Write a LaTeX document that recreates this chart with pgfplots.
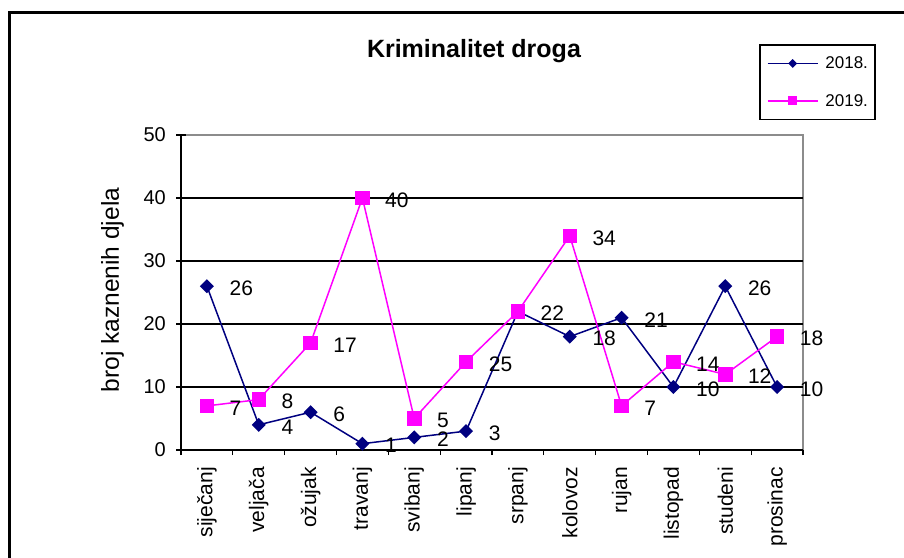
\documentclass[border=0pt]{standalone}
\usepackage{pgfplots}
\pgfplotsset{compat=1.18}
\usepackage{fontspec}
\setmainfont{Liberation Sans}
\definecolor{navyc}{HTML}{000080}
\definecolor{magc}{HTML}{FF00FF}
\newcommand{\fs}[1]{\fontsize{#1}{#1}\selectfont}
\begin{document}
\begin{tikzpicture}
\begin{axis}[
  at={(181pt,107pt)}, anchor=south west,
  scale only axis, width=622pt, height=315pt,
  xmin=-0.5, xmax=11.5, ymin=0, ymax=50,
  clip=false,
  axis x line*=bottom, axis y line*=left,
  axis line style={-, black, line width=1.3pt},
  axis background/.style={draw=black!45, line width=1.2pt},
  xtick={-0.5,0.5,...,11.5},
  x tick label as interval,
  xticklabels={siječanj,veljača,ožujak,travanj,svibanj,lipanj,srpanj,kolovoz,rujan,listopad,studeni,prosinac},
  xticklabel style={rotate=90, anchor=east, inner sep=0pt, font=\fs{21}},
  xticklabel shift=12pt,
  ytick={0,10,...,40},
  extra y ticks={50},
  extra y tick style={grid=none},
  yticklabel style={inner sep=0pt, font=\fs{20}},
  yticklabel shift=10pt,
  /pgf/number format/assume math mode=true,
  ymajorgrids,
  major grid style={black, line width=1.4pt},
  tick align=center,
  major tick length=10pt,
  tick style={black, line width=1.2pt},
  xtick style={yshift=-2.5pt, /pgfplots/major tick length=5pt},
  ylabel={broj kaznenih djela},
  ylabel style={font=\fs{24.5}, at={(axis description cs:-0.110,0.508)}, anchor=center},
  title={Kriminalitet droga},
  title style={font=\bfseries\fs{25}, at={(axis description cs:0.471,1.246)}, anchor=center},
  point meta=explicit symbolic,
  nodes near coords,
  nodes near coords style={anchor=west, xshift=22pt, yshift=-2pt, inner sep=0pt, font=\fs{21}, text=black},
  legend image code/.code={\draw[#1, line width=1.6pt, mark repeat=2, mark phase=2, every mark/.append style={scale=0.55}] plot coordinates {(0pt,0pt) (25pt,0pt) (50pt,0pt)};},
  legend style={at={(0.9293,1.2889)}, anchor=north west, draw=black, line width=1.6pt, font=\fs{17},
    inner xsep=7pt, inner ysep=12pt, row sep=24pt,
    /tikz/every odd column/.append style={column sep=7pt}, nodes={inner sep=0pt}},
  legend cell align=left,
]
\addplot[color=navyc, line width=1.5pt, mark=square*, mark size=4.2pt, mark options={rotate=45, solid, fill=navyc}]
 table[x=x, y=y, meta=l] {
x y l
0 26 26
1 4 4
2 6 6
3 1 1
4 2 2
5 3 3
6 22 {}
7 18 18
8 21 21
9 10 10
10 26 26
11 10 10
};
\addlegendentry{2018.}
\addplot[color=magc, line width=1.5pt, mark=square*, mark size=6.5pt, mark options={solid, fill=magc}]
 table[x=x, y=y, meta=l] {
x y l
0 7 7
1 8 8
2 17 17
3 40 40
4 5 5
5 14 25
6 22 22
7 34 34
8 7 7
9 14 14
10 12 12
11 18 18
};
\addlegendentry{2019.}
\end{axis}
\draw[line width=3pt, black] (9pt,-5pt) -- (9pt,544.5pt) -- (910pt,544.5pt);
\pgfresetboundingbox
\useasboundingbox (0pt,0pt) rectangle (904pt,557pt);
\end{tikzpicture}
\end{document}
